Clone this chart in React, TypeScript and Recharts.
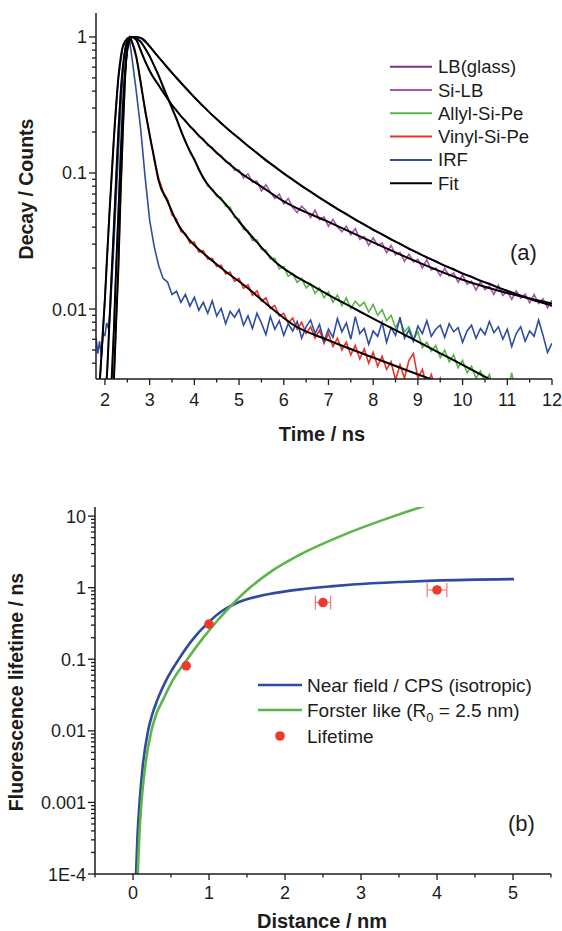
import React from "react";
import { ComposedChart, Line, Scatter, ErrorBar, XAxis, YAxis } from "recharts";

const FONT = "'Liberation Sans', Arial, Helvetica, sans-serif";
const INK = "#1c1c1c";

// ---------- panel (a): decay curves ----------
const STEP = 0.1;

const TIME_TICKS = [2, 2.5, 3, 3.5, 4, 4.5, 5, 5.5, 6, 6.5, 7, 7.5, 8, 8.5, 9, 9.5, 10, 10.5, 11, 11.5, 12];
const DECAY_TICKS = [
  0.004, 0.005, 0.006, 0.007, 0.008, 0.009, 0.01, 0.02, 0.03, 0.04, 0.05, 0.06, 0.07, 0.08, 0.09,
  0.1, 0.2, 0.3, 0.4, 0.5, 0.6, 0.7, 0.8, 0.9, 1,
];

const COLOR_LB = "#7b2f8e";
const COLOR_SILB = "#aa55ae";
const COLOR_ALLYL = "#57b848";
const COLOR_VINYL = "#ee3226";
const COLOR_IRF = "#2f4da0";

// LB(glass)
const LB_HEAD = [[1.85, 0.0022], [1.9, 0.0035], [1.95, 0.0065], [2.0, 0.012], [2.05, 0.025], [2.1, 0.05], [2.2, 0.18], [2.3, 0.5], [2.4, 0.85], [2.5, 0.97], [2.6, 1.0]];
const LB_T0 = 2.8;
const LB_STEP = 0.2;
const LB_TAIL = [0.981, 0.856, 0.708, 0.597, 0.498, 0.426, 0.358, 0.311, 0.266, 0.234, 0.202, 0.181, 0.157, 0.141, 0.123, 0.112, 0.0987, 0.0899, 0.0799, 0.0733, 0.0656, 0.0602, 0.0542, 0.0502, 0.0451, 0.042, 0.0379, 0.0356, 0.0323, 0.0304, 0.0276, 0.026, 0.0238, 0.0226, 0.0207, 0.0198, 0.0181, 0.0174, 0.016, 0.0155, 0.0143, 0.0137, 0.0128, 0.0123, 0.0115, 0.0112, 0.0105];
const LB_FIT = [[1.85, 0.0022], [1.9, 0.0035], [1.95, 0.0065], [2.0, 0.012], [2.05, 0.025], [2.1, 0.05], [2.2, 0.18], [2.3, 0.5], [2.4, 0.85], [2.5, 0.97], [2.6, 1.0], [2.7, 1.0], [2.8, 0.984], [2.9, 0.935], [3.0, 0.851], [3.2, 0.711], [3.4, 0.594], [3.6, 0.501], [3.8, 0.423], [4.0, 0.361], [4.2, 0.309], [4.6, 0.232], [5.0, 0.179], [5.5, 0.132], [6.0, 0.0993], [6.5, 0.0764], [7.0, 0.0598], [7.5, 0.0475], [8.0, 0.0383], [8.5, 0.0313], [9.0, 0.0258], [9.5, 0.0216], [10.0, 0.0183], [10.5, 0.0157], [11.0, 0.0136], [11.5, 0.0119], [12.0, 0.0106]];

// Si-LB
const SILB_HEAD = [[2.0, 0.0022], [2.05, 0.0035], [2.1, 0.008], [2.15, 0.018], [2.2, 0.04], [2.25, 0.09], [2.3, 0.2], [2.35, 0.38], [2.4, 0.6], [2.5, 0.92], [2.6, 1.0]];
const SILB_T0 = 2.7;
const SILB_TAIL = [0.95, 0.8, 0.655, 0.57, 0.49, 0.445, 0.392, 0.358, 0.314, 0.292, 0.26, 0.245, 0.218, 0.208, 0.185, 0.179, 0.159, 0.155, 0.139, 0.134, 0.121, 0.118, 0.105, 0.105, 0.0918, 0.0988, 0.0855, 0.087, 0.0738, 0.082, 0.0724, 0.065, 0.0699, 0.0594, 0.065, 0.0558, 0.0512, 0.0569, 0.0529, 0.0471, 0.0532, 0.0454, 0.0475, 0.0406, 0.0456, 0.0403, 0.037, 0.0407, 0.0352, 0.039, 0.0326, 0.0341, 0.0294, 0.0334, 0.0293, 0.0305, 0.0259, 0.0293, 0.025, 0.0261, 0.0224, 0.0253, 0.0222, 0.0232, 0.02, 0.023, 0.0194, 0.02, 0.0176, 0.0199, 0.0175, 0.0184, 0.0157, 0.0179, 0.0152, 0.016, 0.0138, 0.0158, 0.0139, 0.0147, 0.0128, 0.015, 0.0126, 0.0135, 0.0118, 0.0136, 0.012, 0.0129, 0.0111, 0.0128, 0.011, 0.0119, 0.0102, 0.0116];
const SILB_FIT = [[2.0, 0.0022], [2.05, 0.0035], [2.1, 0.008], [2.15, 0.018], [2.2, 0.04], [2.25, 0.09], [2.3, 0.2], [2.35, 0.38], [2.4, 0.6], [2.5, 0.92], [2.6, 1.0], [2.7, 0.955], [2.8, 0.794], [3.0, 0.562], [3.2, 0.442], [3.5, 0.316], [4.0, 0.204], [4.5, 0.141], [5.0, 0.102], [5.5, 0.0794], [6.0, 0.0619], [7.0, 0.0437], [8.0, 0.0309], [9.0, 0.0221], [10.0, 0.0164], [11.0, 0.0131], [12.0, 0.011]];

// Allyl-Si-Pe
const ALLYL_HEAD = [[2.1, 0.0018], [2.15, 0.003], [2.2, 0.007], [2.25, 0.02], [2.3, 0.05], [2.35, 0.13], [2.4, 0.3], [2.45, 0.55], [2.5, 0.8], [2.6, 1.0]];
const ALLYL_T0 = 2.7;
const ALLYL_TAIL = [0.96, 0.93, 0.81, 0.73, 0.61, 0.53, 0.42, 0.365, 0.295, 0.255, 0.2, 0.174, 0.141, 0.128, 0.105, 0.094, 0.08, 0.077, 0.067, 0.066, 0.057, 0.056, 0.047, 0.046, 0.0385, 0.0375, 0.0318, 0.0322, 0.0274, 0.0272, 0.0233, 0.0236, 0.0197, 0.0205, 0.0174, 0.0183, 0.0157, 0.0168, 0.0143, 0.0154, 0.013, 0.0143, 0.0121, 0.0134, 0.0112, 0.0127, 0.0106, 0.0121, 0.0101, 0.0114, 0.0105, 0.0112, 0.0095, 0.0108, 0.009, 0.0099, 0.0082, 0.009, 0.0073, 0.0083, 0.0068, 0.0074, 0.006, 0.0068, 0.0052, 0.0057, 0.0049, 0.0054, 0.0044, 0.005, 0.0041, 0.0046, 0.0037, 0.0042, 0.0034, 0.0038, 0.0031, 0.0035, 0.0029, 0.0033, 0.0026, 0.0024, 0.0022, 0.0025, 0.0034, 0.0022];
const ALLYL_FIT = [[2.1, 0.0018], [2.15, 0.003], [2.2, 0.007], [2.25, 0.02], [2.3, 0.05], [2.35, 0.13], [2.4, 0.3], [2.45, 0.55], [2.5, 0.8], [2.6, 1.0], [2.8, 0.92], [3.0, 0.72], [3.2, 0.52], [3.4, 0.36], [3.6, 0.25], [3.8, 0.17], [4.0, 0.125], [4.2, 0.092], [4.4, 0.075], [4.7, 0.059], [5.0, 0.044], [5.4, 0.031], [5.8, 0.0224], [6.2, 0.018], [6.6, 0.0151], [7.0, 0.0127], [7.5, 0.0104], [8.0, 0.0085], [8.5, 0.007], [9.0, 0.00575], [9.5, 0.00473], [10.0, 0.00389], [10.6, 0.00305]];

// Vinyl-Si-Pe
const VINYL_HEAD = [[2.15, 0.0015], [2.2, 0.003], [2.25, 0.008], [2.3, 0.02], [2.35, 0.07], [2.4, 0.2], [2.45, 0.5], [2.5, 0.85], [2.55, 1.0], [2.6, 0.93]];
const VINYL_T0 = 2.7;
const VINYL_TAIL = [0.71, 0.47, 0.28, 0.195, 0.125, 0.092, 0.073, 0.064, 0.049, 0.046, 0.037, 0.036, 0.0305, 0.031, 0.0262, 0.0268, 0.0233, 0.0236, 0.0205, 0.021, 0.0181, 0.0187, 0.016, 0.0168, 0.0142, 0.0151, 0.0126, 0.0136, 0.0114, 0.0121, 0.0101, 0.0106, 0.0089, 0.0093, 0.0079, 0.0086, 0.0071, 0.008, 0.0066, 0.0074, 0.0061, 0.007, 0.0056, 0.0066, 0.0053, 0.0061, 0.005, 0.0057, 0.0046, 0.0054, 0.0043, 0.0051, 0.004, 0.0048, 0.0038, 0.0045, 0.0036, 0.0041, 0.003, 0.0039, 0.0031, 0.0042, 0.0047, 0.0031, 0.0036, 0.0027, 0.0033, 0.0026, 0.0031, 0.0024, 0.0029, 0.0022];
const VINYL_FIT = [[2.15, 0.0015], [2.2, 0.003], [2.25, 0.008], [2.3, 0.02], [2.35, 0.07], [2.4, 0.2], [2.45, 0.5], [2.5, 0.85], [2.55, 1.0], [2.6, 0.93], [2.7, 0.72], [2.8, 0.46], [2.9, 0.29], [3.0, 0.19], [3.1, 0.13], [3.2, 0.088], [3.4, 0.062], [3.6, 0.044], [3.9, 0.032], [4.3, 0.0241], [4.7, 0.0189], [5.2, 0.0142], [5.7, 0.0103], [6.2, 0.0077], [7.0, 0.0059], [8.0, 0.0044], [8.9, 0.0034], [9.6, 0.0028]];

// IRF
const IRF_HEAD = [[1.8, 0.0062], [1.84, 0.0047], [1.88, 0.0058], [1.92, 0.0045], [1.96, 0.0066], [2.0, 0.0064], [2.04, 0.0079], [2.08, 0.0072], [2.12, 0.0098], [2.16, 0.017], [2.2, 0.03], [2.25, 0.065], [2.3, 0.14], [2.35, 0.29], [2.4, 0.52], [2.45, 0.82], [2.5, 0.98], [2.55, 0.95]];
const IRF_T0 = 2.6;
const IRF_TAIL = [0.72, 0.4, 0.21, 0.092, 0.045, 0.029, 0.021, 0.0168, 0.0158, 0.0128, 0.0135, 0.0112, 0.0128, 0.0105, 0.0122, 0.0098, 0.0112, 0.0093, 0.0115, 0.0089, 0.0101, 0.0078, 0.0096, 0.0087, 0.0099, 0.0076, 0.0089, 0.0072, 0.0093, 0.0079, 0.0065, 0.0088, 0.0071, 0.0082, 0.0064, 0.0078, 0.0069, 0.0081, 0.0061, 0.0074, 0.0083, 0.0066, 0.0077, 0.0058, 0.0071, 0.0062, 0.0085, 0.0068, 0.0079, 0.006, 0.0088, 0.0066, 0.0072, 0.0055, 0.0069, 0.0063, 0.008, 0.0057, 0.0073, 0.0064, 0.0087, 0.0061, 0.007, 0.0058, 0.0075, 0.0066, 0.0082, 0.0063, 0.0071, 0.0076, 0.0062, 0.0078, 0.0068, 0.0073, 0.0057, 0.0069, 0.0076, 0.0061, 0.0072, 0.0065, 0.0081, 0.0067, 0.0074, 0.006, 0.0071, 0.0053, 0.0066, 0.0074, 0.0058, 0.0069, 0.0063, 0.0083, 0.0064, 0.0048, 0.0056];

const LEGEND_A = [
  { name: "LB(glass)", color: COLOR_LB },
  { name: "Si-LB", color: COLOR_SILB },
  { name: "Allyl-Si-Pe", color: COLOR_ALLYL },
  { name: "Vinyl-Si-Pe", color: COLOR_VINYL },
  { name: "IRF", color: COLOR_IRF },
  { name: "Fit", color: "#000000" },
];

// ---------- panel (b): lifetime vs distance ----------
const DIST_TICKS = [-0.5, 0, 0.5, 1, 1.5, 2, 2.5, 3, 3.5, 4, 4.5, 5, 5.5];
const LIFE_TICKS = [
  0.0001, 0.0002, 0.0003, 0.0004, 0.0005, 0.0006, 0.0007, 0.0008, 0.0009,
  0.001, 0.002, 0.003, 0.004, 0.005, 0.006, 0.007, 0.008, 0.009,
  0.01, 0.02, 0.03, 0.04, 0.05, 0.06, 0.07, 0.08, 0.09,
  0.1, 0.2, 0.3, 0.4, 0.5, 0.6, 0.7, 0.8, 0.9,
  1, 2, 3, 4, 5, 6, 7, 8, 9, 10,
];

const NEAR_D = [0.04, 0.058, 0.087, 0.129, 0.199, 0.252, 0.322, 0.441, 0.607, 0.773, 0.987, 1.161, 1.359, 1.544, 1.741, 2.005, 2.203, 2.599, 2.889, 3.522, 3.958, 5.013];
const NEAR_TAU = [0.0001, 0.000322, 0.00103, 0.00327, 0.0101, 0.0168, 0.0273, 0.0519, 0.102, 0.182, 0.324, 0.465, 0.605, 0.709, 0.796, 0.888, 0.946, 1.042, 1.105, 1.202, 1.253, 1.318];

const FORSTER_D = [0.062, 0.082, 0.113, 0.162, 0.243, 0.303, 0.396, 0.528, 0.719, 0.91, 1.1, 1.28, 1.487, 1.834, 2.177, 2.844, 3.462, 3.845, 4.05];
const FORSTER_TAU = [0.0001, 0.000322, 0.00103, 0.00327, 0.0101, 0.0168, 0.0273, 0.0519, 0.102, 0.191, 0.337, 0.546, 0.897, 1.733, 2.817, 5.87, 10.23, 13.93, 16.4];

const LIFETIME_D = [0.7, 1.0, 2.5, 4.0];
const LIFETIME_TAU = [0.081, 0.31, 0.62, 0.93];
const LIFETIME_ERR = [0, 0, 0.1, 0.13];

const COLOR_NEAR = "#2f4a9e";
const COLOR_FORSTER = "#5cb547";
const COLOR_DOT = "#ee3a2e";

// ---------- helpers ----------
const pairs = (rows: number[][]) => rows.map(([t, v]) => ({ t, v }));
const joinSeries = (head: number[][], t0: number, step: number, tail: number[]) => [
  ...pairs(head),
  ...tail.map((v, i) => ({ t: Math.round((t0 + i * step) * 100) / 100, v })),
];

const isWhole = (v: number) => Math.abs(v - Math.round(v)) < 1e-9;
const isDecade = (v: number) => {
  const l = Math.log10(v);
  return Math.abs(l - Math.round(l)) < 1e-9;
};
const fmtLog = (v: number) => (v < 0.00099 ? "1E-4" : String(v));

const xTick = (baseline: number) => (props: any) => {
  const { x, y, payload } = props;
  const v = payload.value;
  const major = isWhole(v);
  return (
    <g>
      <line x1={x} x2={x} y1={y} y2={y + (major ? 6 : 3.5)} stroke={INK} strokeWidth={1.3} />
      {major && (
        <text x={x} y={y + baseline} textAnchor="middle" fontSize={18} fontFamily={FONT} fill={INK}>
          {v}
        </text>
      )}
    </g>
  );
};

const yTick = (props: any) => {
  const { x, y, payload } = props;
  const v = payload.value;
  const major = isDecade(v);
  return (
    <g>
      <line x1={x - (major ? 7 : 4)} x2={x} y1={y} y2={y} stroke={INK} strokeWidth={1.3} />
      {major && (
        <text x={x - 9} y={y + 6.5} textAnchor="end" fontSize={18} fontFamily={FONT} fill={INK}>
          {fmtLog(v)}
        </text>
      )}
    </g>
  );
};

const axisLine = { stroke: INK, strokeWidth: 1.5 };

function DecayPanel() {
  const lb = joinSeries(LB_HEAD, LB_T0, LB_STEP, LB_TAIL);
  const silb = joinSeries(SILB_HEAD, SILB_T0, STEP, SILB_TAIL);
  const allyl = joinSeries(ALLYL_HEAD, ALLYL_T0, STEP, ALLYL_TAIL);
  const vinyl = joinSeries(VINYL_HEAD, VINYL_T0, STEP, VINYL_TAIL);
  const irf = joinSeries(IRF_HEAD, IRF_T0, STEP, IRF_TAIL);
  const fits = [LB_FIT, SILB_FIT, ALLYL_FIT, VINYL_FIT].map(pairs);

  return (
    <ComposedChart width={562} height={460} margin={{ top: 13, right: 10, left: 0, bottom: 0 }}>
      <XAxis
        type="number"
        dataKey="t"
        domain={[1.8, 12]}
        ticks={TIME_TICKS}
        interval={0}
        allowDataOverflow
        height={81}
        tickSize={0}
        tickMargin={0}
        tickLine={false}
        axisLine={axisLine}
        tick={xTick(26.5)}
      />
      <YAxis
        type="number"
        scale="log"
        domain={[0.00306, 1.5]}
        ticks={DECAY_TICKS}
        interval={0}
        allowDataOverflow
        width={96}
        tickSize={0}
        tickMargin={0}
        tickLine={false}
        axisLine={axisLine}
        tick={yTick}
      />
      <Line data={lb} dataKey="v" type="linear" stroke={COLOR_LB} strokeWidth={1.6} dot={false} isAnimationActive={false} />
      <Line data={silb} dataKey="v" type="linear" stroke={COLOR_SILB} strokeWidth={1.6} dot={false} isAnimationActive={false} />
      <Line data={allyl} dataKey="v" type="linear" stroke={COLOR_ALLYL} strokeWidth={1.6} dot={false} isAnimationActive={false} />
      <Line data={vinyl} dataKey="v" type="linear" stroke={COLOR_VINYL} strokeWidth={1.6} dot={false} isAnimationActive={false} />
      <Line data={irf} dataKey="v" type="linear" stroke={COLOR_IRF} strokeWidth={1.6} dot={false} isAnimationActive={false} />
      {fits.map((f, i) => (
        <Line key={i} data={f} dataKey="v" type="monotone" stroke="#000" strokeWidth={2} dot={false} isAnimationActive={false} />
      ))}
    </ComposedChart>
  );
}

function LifetimePanel() {
  const near = NEAR_D.map((d, i) => ({ d, tau: NEAR_TAU[i] }));
  const forster = FORSTER_D.map((d, i) => ({ d, tau: FORSTER_TAU[i] }));
  const life = LIFETIME_D.map((d, i) => ({ d, tau: LIFETIME_TAU[i], err: LIFETIME_ERR[i] }));

  return (
    <ComposedChart width={562} height={461} margin={{ top: 37, right: 11, left: 0, bottom: 0 }}>
      <XAxis
        type="number"
        dataKey="d"
        domain={[-0.5, 5.5]}
        ticks={DIST_TICKS}
        interval={0}
        allowDataOverflow
        height={57}
        tickSize={0}
        tickMargin={0}
        tickLine={false}
        axisLine={axisLine}
        tick={xTick(25)}
      />
      <YAxis
        type="number"
        scale="log"
        domain={[0.0001, 13.4]}
        ticks={LIFE_TICKS}
        interval={0}
        allowDataOverflow
        width={95}
        tickSize={0}
        tickMargin={0}
        tickLine={false}
        axisLine={axisLine}
        tick={yTick}
      />
      <Line data={near} dataKey="tau" type="monotone" stroke={COLOR_NEAR} strokeWidth={2.6} dot={false} isAnimationActive={false} />
      <Line data={forster} dataKey="tau" type="monotone" stroke={COLOR_FORSTER} strokeWidth={2.6} dot={false} isAnimationActive={false} />
      <Scatter
        data={life}
        dataKey="tau"
        isAnimationActive={false}
        shape={(p: any) => <circle cx={p.cx} cy={p.cy} r={4.8} fill={COLOR_DOT} />}
      >
        <ErrorBar dataKey="err" direction="x" width={7} stroke="#f07a7a" strokeWidth={1.2} />
      </Scatter>
    </ComposedChart>
  );
}

function Overlay() {
  const t = { fontFamily: FONT, fill: INK } as const;
  return (
    <svg width={562} height={931} style={{ position: "absolute", left: 0, top: 0, pointerEvents: "none" }}>
      {/* panel (a) titles */}
      <text {...t} x={33} y={189} fontSize={19.5} fontWeight="bold" textAnchor="middle" transform="rotate(-90 33 189)">
        Decay / Counts
      </text>
      <text {...t} x={322} y={441} fontSize={20} fontWeight="bold" textAnchor="middle">
        Time / ns
      </text>
      {LEGEND_A.map((e, i) => {
        const cy = 66.7 + i * 23.3;
        return (
          <g key={e.name}>
            <line x1={390} x2={432} y1={cy} y2={cy} stroke={e.color} strokeWidth={2} />
            <text {...t} x={438} y={cy + 6.5} fontSize={18.5}>
              {e.name}
            </text>
          </g>
        );
      })}
      <text {...t} x={510} y={260} fontSize={22}>
        (a)
      </text>

      {/* panel (b) titles */}
      <text {...t} x={23} y={692} fontSize={19.5} fontWeight="bold" textAnchor="middle" transform="rotate(-90 23 692)">
        Fluorescence lifetime / ns
      </text>
      <text {...t} x={322} y={928} fontSize={20} fontWeight="bold" textAnchor="middle">
        Distance / nm
      </text>
      <line x1={258} x2={302} y1={685} y2={685} stroke={COLOR_NEAR} strokeWidth={2.6} />
      <text {...t} x={307} y={691.5} fontSize={19}>
        Near field / CPS (isotropic)
      </text>
      <line x1={258} x2={302} y1={710} y2={710} stroke={COLOR_FORSTER} strokeWidth={2.6} />
      <text {...t} x={307} y={716.5} fontSize={19}>
        Forster like (R
        <tspan fontSize={13} dy={5}>0</tspan>
        <tspan dy={-5}> = 2.5 nm)</tspan>
      </text>
      <circle cx={280} cy={736} r={4.8} fill={COLOR_DOT} />
      <text {...t} x={307} y={742.5} fontSize={19}>
        Lifetime
      </text>
      <text {...t} x={508} y={831} fontSize={22}>
        (b)
      </text>
    </svg>
  );
}

export default function App() {
  return (
    <div style={{ position: "absolute", left: 0, top: 0, width: 562, height: 931, background: "#fff" }}>
      <div style={{ position: "absolute", left: 0, top: 0 }}>
        <DecayPanel />
      </div>
      <div style={{ position: "absolute", left: 0, top: 470 }}>
        <LifetimePanel />
      </div>
      <Overlay />
    </div>
  );
}
